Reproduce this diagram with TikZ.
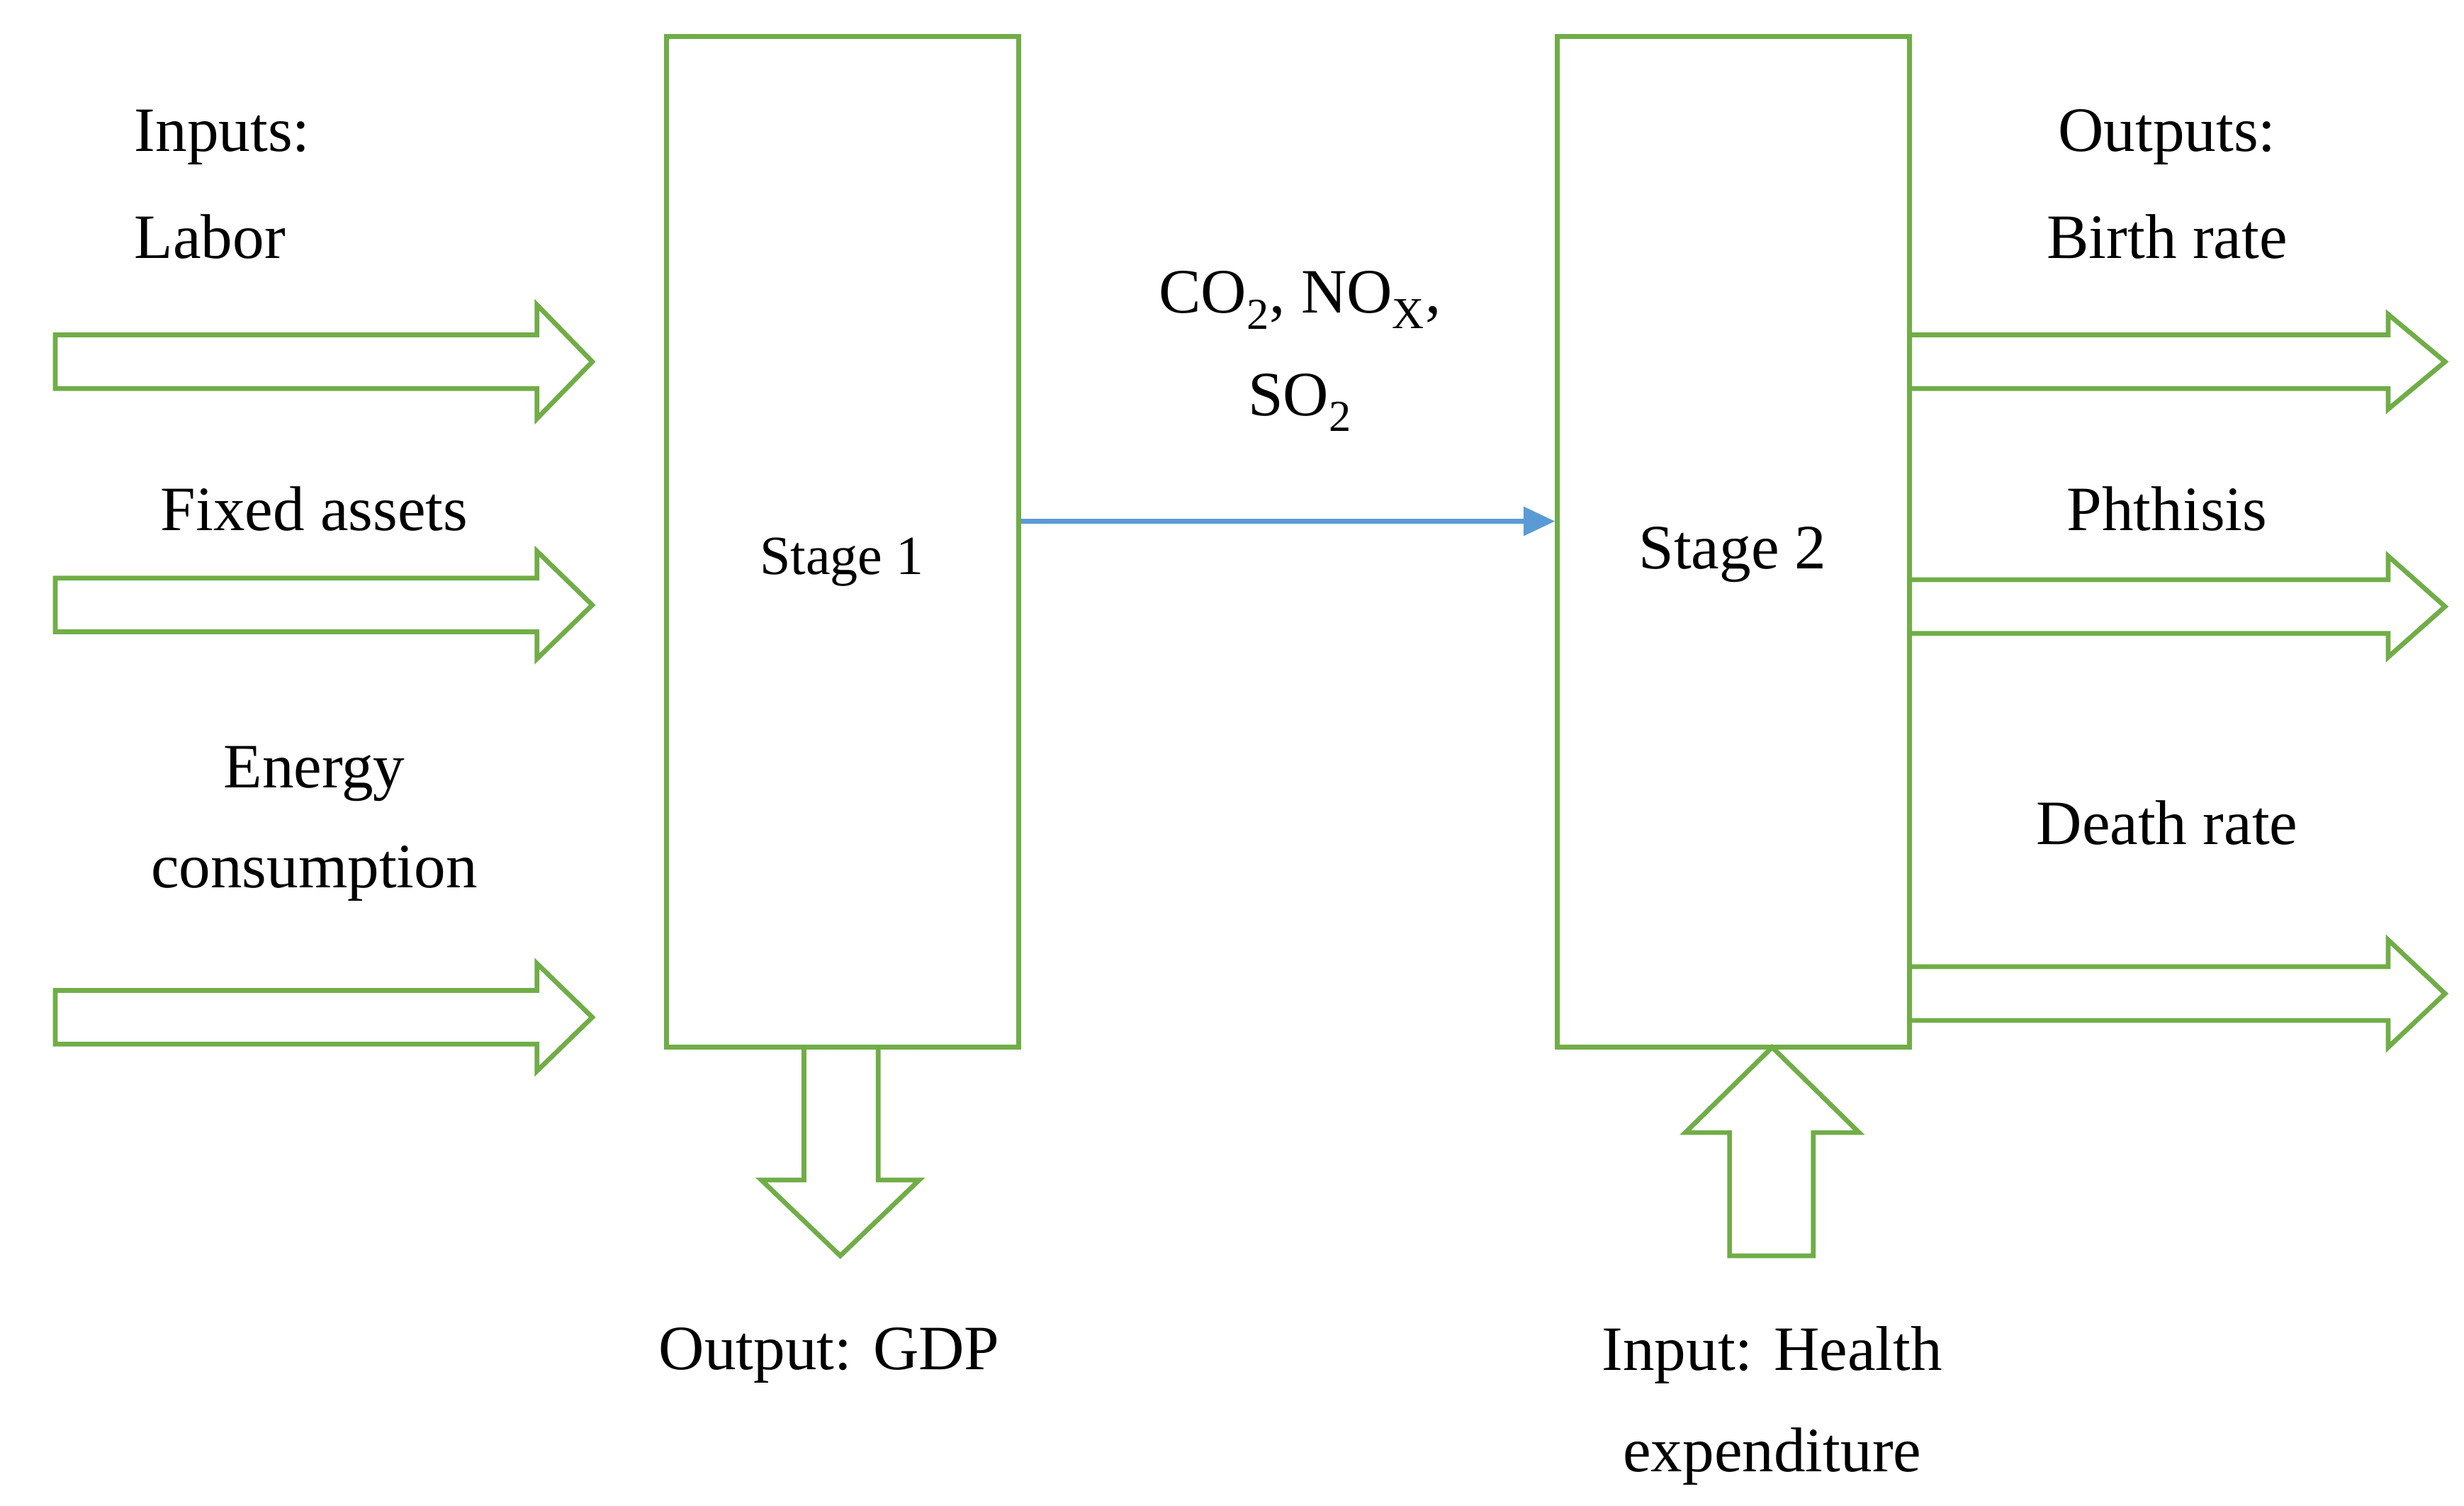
\documentclass[tikz,border=0pt]{standalone}
\usepackage{fontspec}
\setmainfont{Liberation Serif}
\usetikzlibrary{arrows.meta}
\definecolor{grn}{RGB}{112,173,71}
\definecolor{blu}{RGB}{91,155,213}
\begin{document}
\begin{tikzpicture}[x=1pt,y=-1pt,
  box/.style={draw=grn,line width=3pt,minimum width=223pt,minimum height=640pt,inner sep=0},
  fat/.style={draw=grn,line width=3pt,line join=miter},
  lbl/.style={font=\fontsize{40}{48}\selectfont,inner sep=0},
  slbl/.style={font=\fontsize{35}{42}\selectfont,inner sep=0}]
\useasboundingbox (0,0) rectangle (1560,953);
\node[box] (s1) at (533.5,343) {};
\node[box] (s2) at (1097.5,343) {};
\node[slbl] (t1) at (533,356) {Stage 1};
\node[lbl] (t2) at (1097,351) {Stage 2};
% left arrows
\foreach \c/\h in {229/36, 383/34, 644/34}{
  \draw[fat] (35,\c-17) -- (340,\c-17) -- (340,\c-\h) -- (375,\c) -- (340,\c+\h) -- (340,\c+17) -- (35,\c+17) -- cycle;}
% right arrows
\foreach \c/\h in {229/30, 384/32, 629/34}{
  \draw[fat] (1209,\c-17) -- (1512,\c-17) -- (1512,\c-\h) -- (1548,\c) -- (1512,\c+\h) -- (1512,\c+17) -- (1209,\c+17) -- cycle;}
% down arrow
\draw[fat] (509,663) -- (509,747) -- (482,747) -- (532,795) -- (582,747) -- (556,747) -- (556,663);
% up arrow
\draw[fat] (1095,795) -- (1095,717) -- (1067,717) -- (1122,663) -- (1177,717) -- (1148,717) -- (1148,795) -- cycle;
\draw[blu,line width=3pt,-{Triangle[length=20pt,width=18pt]}] (s1.east|-0,330) -- (s2.west|-0,330);
% labels
\node[lbl,anchor=west] (a) at (85,87) {Inputs:};
\node[lbl,anchor=west] (b) at (85,150) {Labor};
\node[lbl] (c) at (199,322) {Fixed assets};
\node[lbl] (d) at (199,490) {Energy};
\node[lbl] (e) at (199,553) {consumption};
\node[lbl] (f) at (823,190) {CO\textsubscript{2}, NO\textsubscript{X},};
\node[lbl] (g) at (823,255) {SO\textsubscript{2}};
\node[lbl] (h) at (1372,87) {Outputs:};
\node[lbl] (i) at (1372,150) {Birth rate};
\node[lbl] (j) at (1372,322) {Phthisis};
\node[lbl] (k) at (1372,521) {Death rate};
\node[lbl] (l) at (525,858) {Output: GDP};
\node[lbl] (m) at (1122,858) {Input: Health};
\node[lbl] (n) at (1122,922) {expenditure};
\end{tikzpicture}
\end{document}
